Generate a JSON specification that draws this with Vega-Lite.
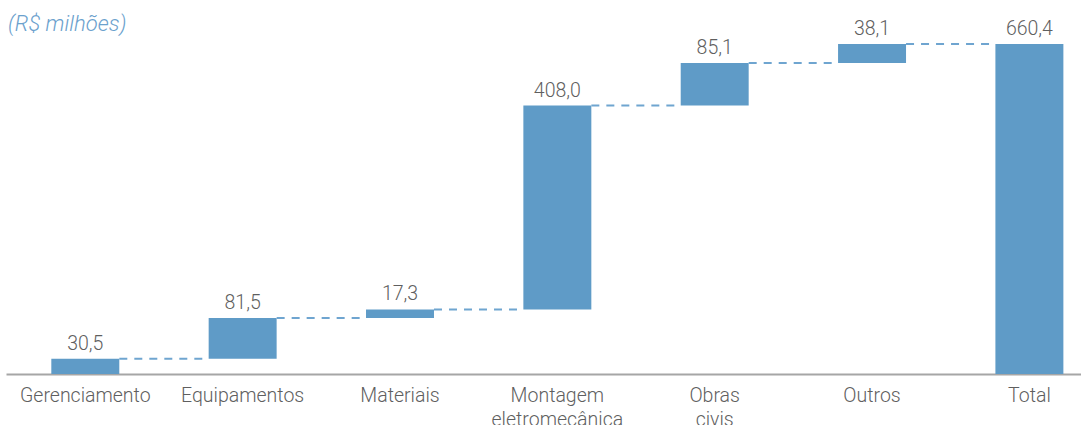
{
  "$schema": "https://vega.github.io/schema/vega-lite/v6.json",
  "width": 1075,
  "height": 334,
  "autosize": {"type": "none"},
  "padding": {"left": 6, "top": 40, "right": 0, "bottom": 51},
  "background": "white",
  "title": {
    "text": "(R$ milhões)",
    "anchor": "start",
    "frame": "group",
    "font": "Roboto",
    "fontStyle": "italic",
    "fontWeight": 300,
    "fontSize": 22,
    "color": "#6ba1cd",
    "offset": -17,
    "dx": 2
  },
  "config": {"view": {"stroke": null}},
  "data": {
    "values": [
      {"cat": "Gerenciamento", "start": 0, "end": 30.5, "label": "30,5", "next": "Equipamentos"},
      {"cat": "Equipamentos", "start": 30.5, "end": 112.0, "label": "81,5", "next": "Materiais"},
      {"cat": "Materiais", "start": 112.0, "end": 129.3, "label": "17,3", "next": "Montagem eletromecânica"},
      {"cat": "Montagem eletromecânica", "start": 129.3, "end": 537.3, "label": "408,0", "next": "Obras civis"},
      {"cat": "Obras civis", "start": 537.3, "end": 622.4, "label": "85,1", "next": "Outros"},
      {"cat": "Outros", "start": 622.4, "end": 660.4, "label": "38,1", "next": "Total"},
      {"cat": "Total", "start": 0, "end": 660.4, "label": "660,4", "next": "none"}
    ]
  },
  "layer": [
    {
      "mark": {"type": "bar", "color": "#5f9bc7"},
      "encoding": {
        "x": {
          "field": "cat",
          "type": "nominal",
          "sort": null,
          "scale": {"paddingInner": 0.568, "paddingOuter": 0.2, "align": 0.72},
          "axis": {
            "title": null,
            "labelAngle": 0,
            "labelFont": "Roboto",
            "labelFontWeight": 300,
            "labelFontSize": 19.5,
            "labelColor": "#5f5f5f",
            "labelPadding": 12,
            "labelBaseline": "top",
            "labelLineHeight": 24,
            "ticks": false,
            "domainColor": "#a6a6a6",
            "domainWidth": 2,
            "labelExpr": "datum.value == 'Montagem eletromecânica' ? ['Montagem', 'eletromecânica'] : datum.value == 'Obras civis' ? ['Obras', 'civis'] : datum.value"
          }
        },
        "y": {"field": "start", "type": "quantitative", "scale": {"domain": [0, 668.4], "nice": false, "zero": true}, "axis": null},
        "y2": {"field": "end"}
      }
    },
    {
      "transform": [{"filter": "datum.next != 'none'"}],
      "mark": {"type": "rule", "color": "#6fa5d0", "strokeWidth": 2, "strokeDash": [8, 7], "xOffset": 34, "x2Offset": -34},
      "encoding": {
        "x": {"field": "cat", "type": "nominal", "sort": null},
        "x2": {"field": "next"},
        "y": {"field": "end", "type": "quantitative"}
      }
    },
    {
      "mark": {"type": "text", "baseline": "bottom", "dy": -5, "font": "Roboto", "fontWeight": 300, "fontSize": 19.5, "color": "#5f5f5f"},
      "encoding": {
        "x": {"field": "cat", "type": "nominal", "sort": null},
        "y": {"field": "end", "type": "quantitative"},
        "text": {"field": "label"}
      }
    }
  ]
}
